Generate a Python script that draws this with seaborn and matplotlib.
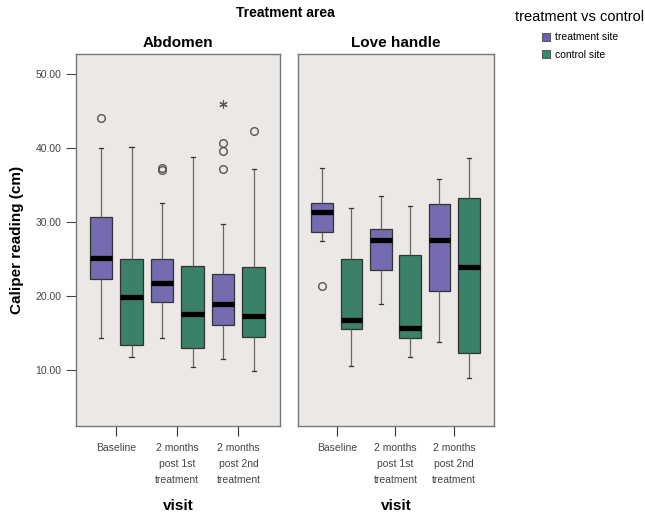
import numpy as np
import pandas as pd
import seaborn as sns
import matplotlib.pyplot as plt
from matplotlib.patches import Patch

visits = ['Baseline', '2 months\npost 1st\ntreatment', '2 months\npost 2nd\ntreatment']
sites = ['treatment site', 'control site']
areas = ['Abdomen', 'Love handle']

# five-number summaries: low whisker, q1, median, q3, high whisker
abd_treat = [[14.3, 22.3, 25.1, 30.6, 40.0],
             [14.3, 19.2, 21.7, 25.0, 32.5],
             [11.4, 16.1, 18.9, 23.0, 29.7]]
abd_ctrl = [[11.7, 13.4, 19.9, 25.0, 40.1],
            [10.4, 13.0, 17.5, 24.0, 38.8],
            [9.8, 14.5, 17.3, 23.9, 37.2]]
lh_treat = [[27.4, 28.6, 31.4, 32.6, 37.3],
            [18.9, 23.5, 27.5, 29.1, 33.5],
            [13.8, 20.7, 27.5, 32.4, 35.8]]
lh_ctrl = [[10.5, 15.5, 16.7, 25.0, 31.9],
           [11.7, 14.3, 15.7, 25.5, 32.2],
           [8.9, 12.3, 23.9, 33.2, 38.6]]

# outliers (area, visit index, site, value, rank) and extremes
outliers = [('Abdomen', 0, 'treatment site', 44.1, 0),
            ('Abdomen', 1, 'treatment site', 37.0, 0),
            ('Abdomen', 1, 'treatment site', 37.3, 1),
            ('Abdomen', 2, 'treatment site', 40.6, 0),
            ('Abdomen', 2, 'treatment site', 39.6, 1),
            ('Abdomen', 2, 'treatment site', 37.1, 2),
            ('Abdomen', 2, 'control site', 42.3, 0),
            ('Love handle', 0, 'treatment site', 21.3, 0)]
extremes = [('Abdomen', 2, 'treatment site', 46.0, 0)]

rows = []
for area, tr, ct in [('Abdomen', abd_treat, abd_ctrl), ('Love handle', lh_treat, lh_ctrl)]:
    for i, v in enumerate(visits):
        for val in tr[i]:
            rows.append((area, v, 'treatment site', val))
        for val in ct[i]:
            rows.append((area, v, 'control site', val))
df = pd.DataFrame(rows, columns=['area', 'visit', 'site', 'value'])

def pts_df(lst):
    return pd.DataFrame([(a, visits[i], s, v, r) for a, i, s, v, r in lst],
                        columns=['area', 'visit', 'site', 'value', 'rank'])

out_df = pts_df(outliers)
ext_df = pts_df(extremes)

bg = '#ece8e6'
palette = {'treatment site': '#6b60bb', 'control site': '#2f8c6c'}
gray_pal = {'treatment site': '#555555', 'control site': '#555555'}

plt.rcParams['font.family'] = ['Liberation Sans', 'DejaVu Sans']
fig = plt.figure(figsize=(6.45, 5.16), dpi=100)
W, H = 645, 516
axes = [fig.add_axes([76 / W, 1 - 426 / H, 204 / W, 372 / H]),
        fig.add_axes([298 / W, 1 - 426 / H, 196 / W, 372 / H])]

for ax, area in zip(axes, areas):
    ax.set_facecolor(bg)
    sub = df[df['area'] == area]
    sns.boxplot(data=sub, x='visit', y='value', hue='site', order=visits, hue_order=sites,
                palette=palette, whis=(0, 100), width=1.0, gap=0.26, ax=ax,
                linewidth=0.9, linecolor='#333333', fliersize=0, legend=False,
                whiskerprops=dict(color='#666666'), capprops=dict(color='#333333'),
                capwidths=0.07,
                medianprops=dict(color='black', linewidth=3.8, solid_capstyle='butt'))
    for d, mk, ms, mew in [(out_df, 'o', 5.5, 1.0), (ext_df, (6, 2, 0), 6, 0.8)]:
        s = d[d['area'] == area]
        for r in sorted(s['rank'].unique()):
            sr = s[s['rank'] == r]
            sns.pointplot(data=sr, x='visit', y='value', hue='site', order=visits,
                          hue_order=sites, palette=gray_pal, dodge=0.5, errorbar=None,
                          linestyle='none', marker=mk, markersize=ms,
                          markerfacecolor='none', markeredgewidth=mew,
                          legend=False, ax=ax)
    ax.set_xlim(-0.66, 2.68)
    ax.set_ylim(2.4, 52.7)
    ax.set_title(area, fontsize=11, fontweight='bold', pad=5)
    ax.set_xlabel('visit', fontsize=11, fontweight='bold', labelpad=10)
    ax.tick_params(axis='x', labelsize=7.5, colors='#333333', length=7, width=0.8, pad=5)
    for lab in ax.get_xticklabels():
        lab.set_linespacing(1.75)
        lab.set_color('#444444')
    for sp in ax.spines.values():
        sp.set_color('#777777')
        sp.set_linewidth(1.0)

axes[0].set_yticks([10, 20, 30, 40, 50])
axes[0].set_yticklabels(['10.00', '20.00', '30.00', '40.00', '50.00'])
axes[0].tick_params(axis='y', labelsize=7.5, colors='#444444', length=7, width=0.8)
axes[0].set_ylabel('Caliper reading (cm)', fontsize=11, fontweight='bold', labelpad=8)
axes[1].set_yticks([])
axes[1].set_ylabel('')

fig.text(285 / W, 1 - 13 / H, 'Treatment area', ha='center', va='center',
         fontsize=10, fontweight='bold')

handles = [Patch(facecolor=palette[s], edgecolor='#444444', linewidth=0.6, label=s) for s in sites]
fig.legend(handles=handles, title='treatment vs control', loc='upper left',
           bbox_to_anchor=(507 / W, 1 - 2 / H), frameon=False, fontsize=7.5,
           title_fontsize=10.5, handlelength=0.8, handleheight=0.8, handletextpad=0.5,
           labelspacing=0.75, borderpad=0.3)

fig.savefig('out.png', dpi=100, facecolor='white')
